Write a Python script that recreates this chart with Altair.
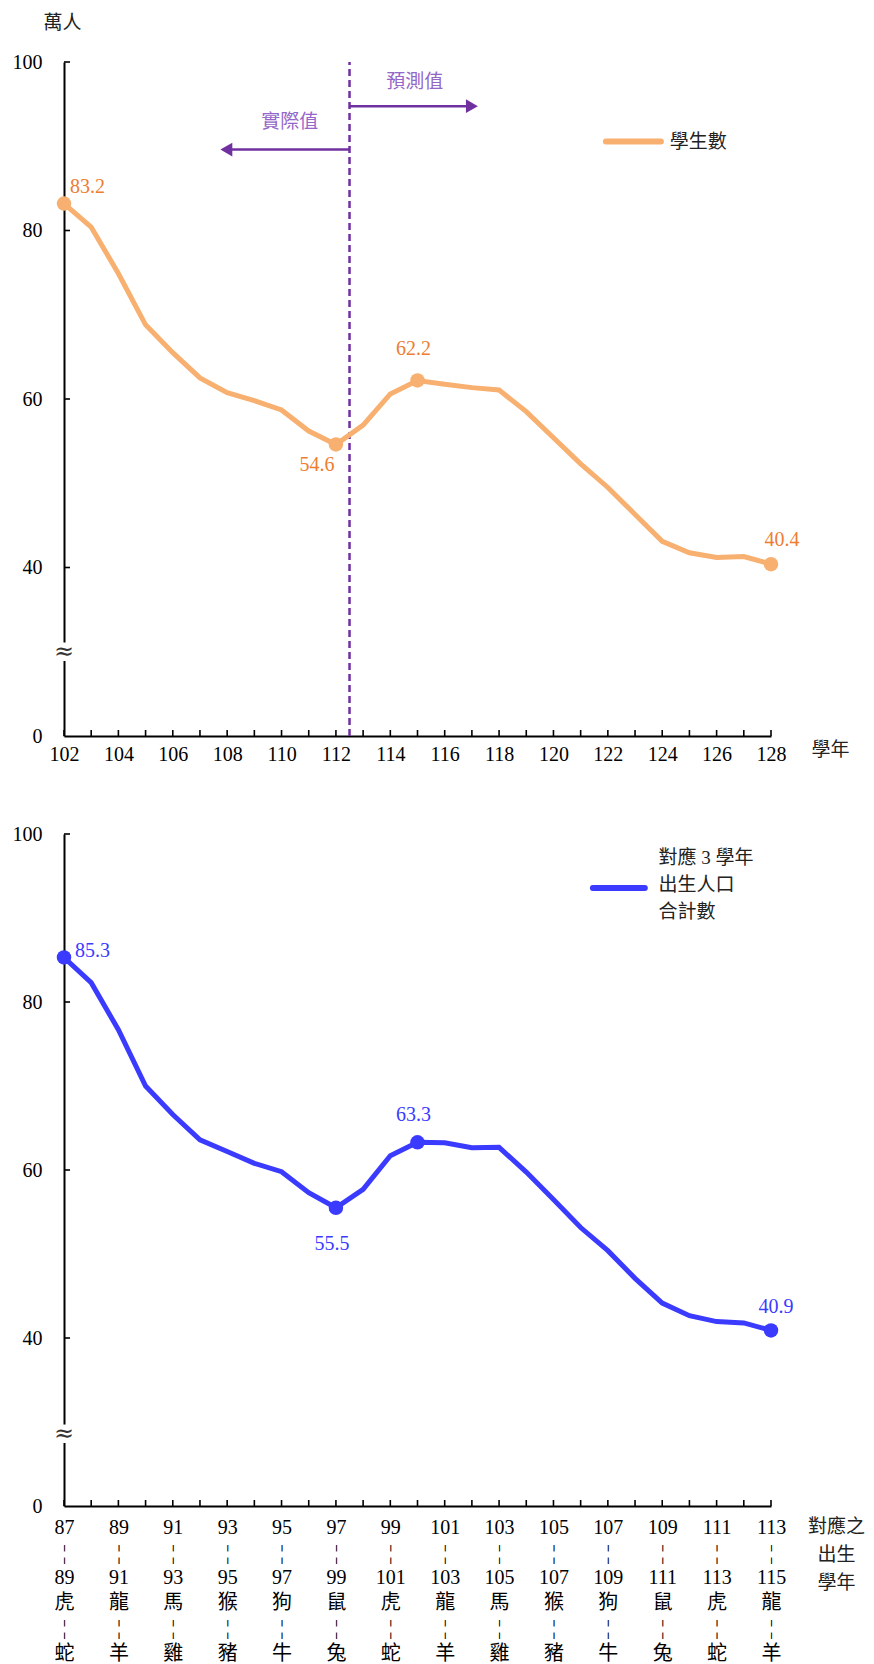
import altair as alt
import pandas as pd

# ---------------- data ----------------
years_top = list(range(102, 129))
students = [83.2, 80.4, 74.9, 68.8, 65.5, 62.5, 60.75, 59.8, 58.7, 56.2, 54.6,
            56.9, 60.6, 62.2, 61.75, 61.35, 61.07, 58.5, 55.4, 52.3, 49.5,
            46.3, 43.1, 41.75, 41.2, 41.3, 40.4]
top_marked_years = [102, 112, 115, 128]

years_bot = list(range(87, 114))
births = [85.3, 82.3, 76.7, 70.0, 66.6, 63.6, 62.2, 60.8, 59.8, 57.3, 55.5,
          57.7, 61.7, 63.3, 63.25, 62.65, 62.7, 59.75, 56.5, 53.15, 50.4,
          47.1, 44.15, 42.65, 41.95, 41.8, 40.9]
bot_marked_years = [87, 97, 100, 113]

top_tick_labels = list(range(102, 129, 2))
bot_tick_start = list(range(87, 114, 2))
bot_tick_end = ["89", "91", "93", "95", "97", "99", "101", "103", "105", "107",
                "109", "111", "113", "115"]
zodiac_a = ["虎", "龍", "馬", "猴", "狗", "鼠", "虎", "龍", "馬", "猴", "狗", "鼠", "虎", "龍"]
zodiac_b = ["蛇", "羊", "雞", "豬", "牛", "兔", "蛇", "羊", "雞", "豬", "牛", "兔", "蛇", "羊"]
y_ticks = [20, 40, 60, 80, 100]

legend_top = "學生數"
legend_bot = ["對應 3 學年", "出生人口", "合計數"]

# ---------------- style ----------------
FONT_NUM = "Liberation Serif"
FONT_CJK = "Noto Sans CJK TC"
FONT_MIX = "'Liberation Serif', 'Noto Sans CJK TC'"
ORANGE_LINE = "#F8B070"
ORANGE_TXT = "#ED7D31"
BLUE = "#3B3BFF"
PURPLE = "#7030A0"
PURPLE_TXT = "#9466C8"
W = 707


def y_enc(h_title=None):
    ax = dict(values=y_ticks, labelExpr="datum.value == 20 ? '0' : datum.label",
              ticks=False, tickSize=0, grid=False, domainColor="black", domainWidth=2,
              labelFont=FONT_NUM, labelFontSize=20, labelColor="black", labelPadding=22)
    if h_title:
        ax.update(title=h_title, titleFont=FONT_CJK, titleFontSize=19, titleFontWeight="normal",
                  titleColor="#222", titleAngle=0, titleX=-2, titleY=-40,
                  titleAlign="center", titleBaseline="middle")
    else:
        ax.update(title=None)
    return alt.Y("value:Q", scale=alt.Scale(domain=[20, 100], nice=False, zero=False),
                 axis=alt.Axis(**ax))


def panel(years, values, marked, x_axis, line_color, txt_color, labels, height,
          break_val, legend_layers):
    lo, hi = years[0], years[-1]
    X = alt.X("year:Q", scale=alt.Scale(domain=[lo, hi], nice=False, zero=False), axis=x_axis)
    Y = y_enc("萬人" if lo == 102 else None)
    df = pd.DataFrame({"year": years, "value": values})
    base = alt.Chart(df)
    layers = []
    # axis ticks drawn inward
    xt = pd.DataFrame({"year": years, "value": [20] * len(years),
                       "value2": [20 + 6 / (height / 80)] * len(years)})
    layers.append(alt.Chart(xt).mark_rule(color="black", strokeWidth=1.6).encode(
        x=X, y=Y, y2="value2:Q"))
    yt = pd.DataFrame({"value": y_ticks[1:], "year": [lo] * 4,
                       "year2": [lo + 6 / (W / (hi - lo))] * 4})
    layers.append(alt.Chart(yt).mark_rule(color="black", strokeWidth=1.6).encode(
        x=X, x2="year2:Q", y=Y))
    # axis break
    brk = pd.DataFrame({"year": [lo - 0.35], "year2": [lo + 0.35],
                        "value": [break_val - 1.1], "value2": [break_val + 1.1]})
    layers.append(alt.Chart(brk).mark_rect(color="white").encode(
        x=X, x2="year2:Q", y=Y, y2="value2:Q"))
    layers.append(alt.Chart(pd.DataFrame({"year": [lo], "value": [break_val]})).mark_text(
        text="≈", font="DejaVu Serif", fontSize=24, color="#333", baseline="middle",
        align="center").encode(x=X, y=Y))
    layers += legend_layers(X, Y)
    layers.append(base.mark_line(color=line_color, strokeWidth=5).encode(x=X, y=Y))
    mdf = df[df["year"].isin(marked)]
    layers.append(alt.Chart(mdf).mark_circle(color=line_color, size=210, opacity=1).encode(x=X, y=Y))
    for yr, (dx, dy, align) in labels.items():
        ldf = df[df["year"] == yr]
        layers.append(alt.Chart(ldf).mark_text(
            font=FONT_NUM, fontSize=20, color=txt_color, dx=dx, dy=dy, align=align,
            baseline="middle").encode(x=X, y=Y, text=alt.Text("value:Q", format=".1f")))
    return alt.layer(*layers).properties(width=W, height=height)


# ----- top panel -----
top_x_axis = alt.Axis(values=top_tick_labels, ticks=False, tickSize=0, grid=False,
                      domainColor="black", domainWidth=2, labelFont=FONT_NUM, labelFontSize=20,
                      labelColor="black", labelPadding=8, labelFlush=False, labelOverlap=False,
                      title="學年", titleFont=FONT_CJK, titleFontSize=19, titleFontWeight="normal",
                      titleColor="#222", titleAngle=0, titleX=766, titleY=13,
                      titleAlign="center", titleBaseline="middle")


def top_legend(X, Y):
    out = []
    rule = pd.DataFrame({"year": [112.5], "value": [20], "value2": [100]})
    out.append(alt.Chart(rule).mark_rule(color=PURPLE, strokeWidth=2.5, strokeDash=[7, 4]).encode(
        x=X, y=Y, y2="value2:Q"))
    arrows = pd.DataFrame({"year": [112.5, 112.5], "year2": [117.0, 107.97],
                           "value": [94.75, 89.6]})
    out.append(alt.Chart(arrows).mark_rule(color=PURPLE, strokeWidth=2.5).encode(
        x=X, x2="year2:Q", y=Y))
    heads = pd.DataFrame({"year": [117.0, 107.97], "value": [94.75, 89.6],
                          "shape": ["triangle-right", "triangle-left"]})
    out.append(alt.Chart(heads).mark_point(filled=True, color=PURPLE, size=190, opacity=1).encode(
        x=X, y=Y, shape=alt.Shape("shape:N", scale=None)))
    tx = pd.DataFrame({"year": [114.9, 110.3], "value": [97.6, 92.9], "t": ["預測值", "實際值"]})
    out.append(alt.Chart(tx).mark_text(font=FONT_CJK, fontSize=19, color=PURPLE_TXT,
                                        baseline="middle", align="center").encode(
        x=X, y=Y, text="t:N"))
    lg = pd.DataFrame({"year": [121.93], "year2": [123.95], "value": [90.55]})
    out.append(alt.Chart(lg).mark_rule(color=ORANGE_LINE, strokeWidth=6, strokeCap="round").encode(
        x=X, x2="year2:Q", y=Y))
    lt = pd.DataFrame({"year": [124.28], "value": [90.55], "t": [legend_top]})
    out.append(alt.Chart(lt).mark_text(font=FONT_CJK, fontSize=19, color="#222", align="left",
                                        baseline="middle").encode(x=X, y=Y, text="t:N"))
    return out


top = panel(years_top, students, top_marked_years, top_x_axis, ORANGE_LINE, ORANGE_TXT,
            {102: (6, -17, "left"), 112: (-19, 21, "center"), 115: (-4, -31, "center"),
             128: (11, -24, "center")}, 674, 30, top_legend)

# ----- bottom panel -----
lab_strings = [f"{s}|¦|{e}|{a}|¦|{b}" for s, e, a, b in
               zip(bot_tick_start, bot_tick_end, zodiac_a, zodiac_b)]
label_expr = ("split([" + ",".join(f"'{s}'" for s in lab_strings) + "][indexof(["
              + ",".join(str(v) for v in bot_tick_start) + "], datum.value)], '|')")
bot_x_axis = alt.Axis(values=bot_tick_start, labelExpr=label_expr, ticks=False, tickSize=0,
                      grid=False, domainColor="black", domainWidth=2, labelFont=FONT_MIX,
                      labelFontSize=20, labelColor="black", labelPadding=11,
                      labelLineHeight=25.2, labelFlush=False, labelOverlap=False,
                      title=["對應之", "出生", "學年"], titleFont=FONT_CJK, titleFontSize=19,
                      titleFontWeight="normal", titleColor="#222", titleAngle=0,
                      titleX=772, titleY=11, titleLineHeight=28, titleAlign="center",
                      titleBaseline="top")


def bot_legend(X, Y):
    out = []
    lg = pd.DataFrame({"year": [106.45], "year2": [108.36], "value": [93.57]})
    out.append(alt.Chart(lg).mark_rule(color=BLUE, strokeWidth=6, strokeCap="round").encode(
        x=X, x2="year2:Q", y=Y))
    for i, t in enumerate(legend_bot):
        lt = pd.DataFrame({"year": [108.86], "value": [93.9], "t": [t]})
        out.append(alt.Chart(lt).mark_text(font=FONT_MIX, fontSize=19, color="#222", align="left",
                                            baseline="middle", dy=(i - 1) * 27).encode(
            x=X, y=Y, text="t:N"))
    return out


bottom = panel(years_bot, births, bot_marked_years, bot_x_axis, BLUE, BLUE,
               {87: (11, -6, "left"), 97: (-4, 36, "center"), 100: (-4, -27, "center"),
                113: (5, -23, "center")}, 672, 28.6, bot_legend)

chart = alt.vconcat(top, bottom, spacing=60).configure_view(stroke=None).properties(
    padding={"left": 4, "top": 5, "right": 0, "bottom": 0})

chart.save("out.html", embed_options={"renderer": "svg", "actions": False})
